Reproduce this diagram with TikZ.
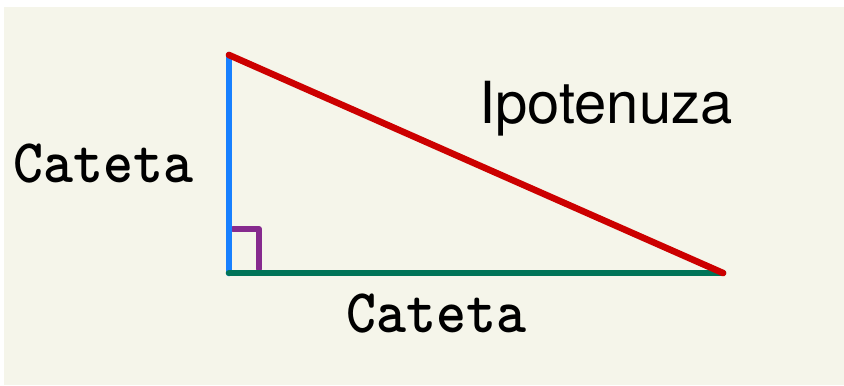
\documentclass[tikz,border=0pt]{standalone}
\usepackage{fontspec}
\setsansfont{TeX Gyre Heros}
\usetikzlibrary{positioning}
\definecolor{bgcream}{RGB}{245,245,234}
\definecolor{catblue}{RGB}{24,128,255}
\definecolor{hypred}{RGB}{204,0,0}
\definecolor{catgreen}{RGB}{0,116,88}
\definecolor{rapurple}{RGB}{134,42,142}
\newcommand{\catfont}{\fontsize{53}{53}\selectfont\ttfamily}

\begin{document}
\begin{tikzpicture}[x=0.03cm, y=-0.03cm,
          side/.style ={line width=5.6pt, line cap=round, line join=round},
          mark90/.style={line width=5pt, line cap=round, line join=round, draw=rapurple},
          lbl/.style ={inner sep=0pt, anchor=base west, text=black},
          catlbl/.style={lbl, font=\catfont},
          hyplbl/.style={lbl, font=\fontsize{49.5}{49.5}\selectfont\sffamily}]
        \useasboundingbox (0,0) rectangle (844,385);
        \fill[white] (0,0) rectangle (844,385);
        \fill[bgcream] (4,7) rectangle (844,385);
        % vertices of the triangle
        \coordinate (ra) at (229,273);
        \coordinate (top) at (229,55);
        \coordinate (tip) at (723,273);
        % right angle mark
        \coordinate (m1) at (233,229);
        \coordinate (m2) at (259,229);
        \coordinate (m3) at (259,269);
        \draw[mark90] (m1) -- (m2) -- (m3);
        \draw[side, draw=catblue] (ra) -- (top);
        \draw[side, draw=catgreen] (ra) -- (tip);
        \draw[side, draw=hypred] (top) -- (tip);
        % labels
        \node[catlbl] (legv) at (13,182) {\scalebox{0.92}[1]{\textbf{Cateta}}};
        \node[catlbl] (legh) at (346,332) {\scalebox{0.92}[1]{\textbf{Cateta}}};
        \node[hyplbl] (hyp) at (479,123) {Ipotenuza};
      \end{tikzpicture}
\end{document}
